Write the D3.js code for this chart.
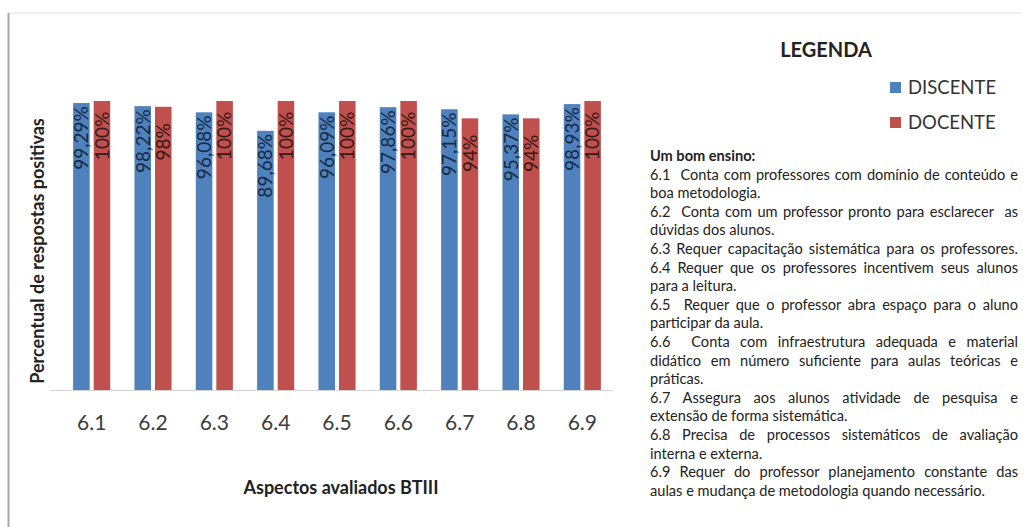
<!DOCTYPE html>
<html>
<head>
<meta charset="utf-8">
<script src="https://cdn.jsdelivr.net/npm/d3@7"></script>
<style>
  body { margin: 0; background: #fff; }
  svg { display: block; }
</style>
</head>
<body>
<script>
// dados do gráfico
var categorias = ["6.1", "6.2", "6.3", "6.4", "6.5", "6.6", "6.7", "6.8", "6.9"];
var series = ["DISCENTE", "DOCENTE"];
var discente = [99.29, 98.22, 96.08, 89.68, 96.09, 97.86, 97.15, 95.37, 98.93];
var docente = [100, 98, 100, 100, 100, 100, 94, 94, 100];
var rotDiscente = ["99,29%", "98,22%", "96,08%", "89,68%", "96,09%", "97,86%", "97,15%", "95,37%", "98,93%"];
var rotDocente = ["100%", "98%", "100%", "100%", "100%", "100%", "94%", "94%", "100%"];

// texto da legenda lateral (linhas como no original)
var tituloTexto = "Um bom ensino:";
var paragrafos = [
  ["6.1  Conta com professores com domínio de conteúdo e", "boa metodologia."],
  ["6.2  Conta com um professor pronto para esclarecer  as", "dúvidas dos alunos."],
  ["6.3 Requer capacitação sistemática para os professores."],
  ["6.4 Requer que os professores incentivem seus alunos", "para a leitura."],
  ["6.5  Requer que o professor abra espaço para o aluno", "participar da aula."],
  ["6.6  Conta com infraestrutura adequada e material", "didático em número suficiente para aulas teóricas e", "práticas."],
  ["6.7 Assegura aos alunos atividade de pesquisa e", "extensão de forma sistemática."],
  ["6.8 Precisa de processos sistemáticos de avaliação", "interna e externa."],
  ["6.9 Requer do professor planejamento constante das", "aulas e mudança de metodologia quando necessário."]
];

var cores = { DISCENTE: "#4f81bd", DOCENTE: "#c0504d" };
var corRotulo = { DISCENTE: "#172a46", DOCENTE: "#351818" };

var W = 1028, H = 527;
var svg = d3.select("body").append("svg").attr("width", W).attr("height", H);

// moldura
svg.append("line").attr("x1", 8).attr("x2", 1022).attr("y1", 13).attr("y2", 13)
  .attr("stroke", "#e2e2e2").attr("stroke-width", 1);
svg.append("line").attr("x1", 8.5).attr("x2", 8.5).attr("y1", 13).attr("y2", H)
  .attr("stroke", "#a8a8a8").attr("stroke-width", 2);

// escalas
var x0 = d3.scaleBand().domain(categorias).range([61, 613]).padding(0);
var x1 = d3.scaleBand().domain(series).range([0, x0.bandwidth()])
  .paddingInner(0.195).paddingOuter(0.59);
var y = d3.scaleLinear().domain([0, 100]).range([390, 101]);

var dados = categorias.map(function(c, i) {
  return { cat: c, vals: [
    { s: "DISCENTE", v: discente[i], rot: rotDiscente[i] },
    { s: "DOCENTE", v: docente[i], rot: rotDocente[i] }
  ]};
});

var grupos = svg.append("g").selectAll("g").data(dados).enter().append("g")
  .attr("transform", function(d) { return "translate(" + x0(d.cat) + ",0)"; });

grupos.selectAll("rect").data(function(d) { return d.vals; }).enter().append("rect")
  .attr("x", function(d) { return x1(d.s); })
  .attr("width", x1.bandwidth())
  .attr("y", function(d) { return y(d.v); })
  .attr("height", function(d) { return y(0) - y(d.v); })
  .attr("fill", function(d) { return cores[d.s]; });

// rótulos rotacionados
grupos.selectAll("text").data(function(d) { return d.vals; }).enter().append("text")
  .attr("transform", function(d) {
    var cx = x1(d.s) + x1.bandwidth() / 2;
    return "translate(" + cx + "," + (y(d.v) + 35) + ") rotate(-90)";
  })
  .attr("text-anchor", "middle")
  .attr("dy", "0.36em")
  .style("font-family", "Lato, 'Open Sans', sans-serif")
  .style("font-size", "19px")
  .attr("fill", function(d) { return corRotulo[d.s]; })
  .text(function(d) { return d.rot; });

// eixo x
var eixoX = svg.append("g").attr("transform", "translate(0,390)")
  .call(d3.axisBottom(x0).tickSize(0).tickPadding(25));
eixoX.select(".domain").attr("stroke", "#d4d4d4").attr("d", "M50,0.5H613");
eixoX.selectAll("text")
  .style("font-family", "Lato, 'Open Sans', sans-serif")
  .style("font-size", "21px")
  .attr("fill", "#3c3c3c");

// títulos dos eixos
svg.append("text")
  .attr("transform", "translate(44,251) rotate(-90)")
  .attr("text-anchor", "middle")
  .style("font-family", "Lato, 'Open Sans', sans-serif")
  .style("font-size", "18px").style("font-weight", "bold")
  .attr("fill", "#222")
  .text("Percentual de respostas positivas");

svg.append("text")
  .attr("x", 341).attr("y", 494)
  .attr("text-anchor", "middle")
  .style("font-family", "Lato, 'Open Sans', sans-serif")
  .style("font-size", "18px").style("font-weight", "bold")
  .attr("fill", "#222")
  .text("Aspectos avaliados BTIII");

// legenda
svg.append("text")
  .attr("x", 826).attr("y", 57)
  .attr("text-anchor", "middle")
  .style("font-family", "Lato, 'Open Sans', sans-serif")
  .style("font-size", "20px").style("font-weight", "bold")
  .attr("fill", "#222")
  .text("LEGENDA");

var leg = svg.append("g").selectAll("g").data(series).enter().append("g")
  .attr("transform", function(d, i) { return "translate(890," + (82 + i * 35) + ")"; });
leg.append("rect").attr("width", 11).attr("height", 11)
  .attr("fill", function(d) { return cores[d]; });
leg.append("text").attr("x", 18).attr("y", 12)
  .style("font-family", "Lato, 'Open Sans', sans-serif")
  .style("font-size", "18.5px")
  .attr("fill", "#333")
  .text(function(d) { return d; });

// bloco de texto justificado
var tx0 = 650, tx1 = 1018, lh = 18.6;
var bloco = svg.append("g")
  .style("font-family", "Lato, 'Open Sans', sans-serif")
  .style("font-size", "14.6px")
  .attr("fill", "#222");

bloco.append("text").attr("x", tx0).attr("y", 161)
  .style("font-weight", "bold").text(tituloTexto);

var linhas = [];
paragrafos.forEach(function(p) {
  p.forEach(function(l, j) {
    linhas.push({ t: l, just: j < p.length - 1 || p.length === 1 });
  });
});

bloco.selectAll("text.l").data(linhas).enter().append("text")
  .attr("class", "l")
  .attr("x", tx0)
  .attr("y", function(d, i) { return 161 + lh * (i + 1); })
  .style("white-space", "pre")
  .text(function(d) { return d.t; })
  .each(function(d) {
    var el = d3.select(this);
    var larg = this.getComputedTextLength();
    var alvo = tx1 - tx0;
    if (larg > alvo) {
      el.attr("textLength", alvo).attr("lengthAdjust", "spacingAndGlyphs");
    } else if (d.just) {
      var esp = (d.t.match(/ /g) || []).length;
      if (esp > 0) el.style("word-spacing", ((alvo - larg) / esp) + "px");
    }
  });
</script>
</body>
</html>
